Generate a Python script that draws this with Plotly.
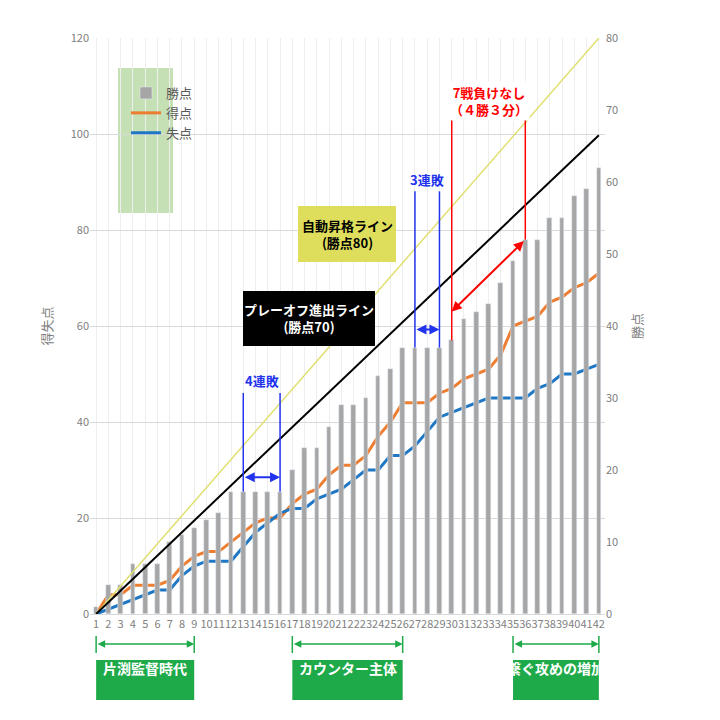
import plotly.graph_objects as go

games = list(range(1, 43))
points = [1,4,4,7,7,7,10,11,12,13,14,17,17,17,17,17,20,23,23,26,29,29,30,33,34,37,37,37,37,38,41,42,43,46,49,52,52,55,55,58,59,62]
scored = [0,4,4,6,6,6,7,10,12,13,13,15,17,19,20,20,23,25,26,29,31,31,33,37,40,44,44,44,46,47,49,50,51,54,60,61,62,65,66,68,69,71]
conceded = [0,1,2,3,4,5,5,8,10,11,11,11,14,17,19,21,22,22,24,25,26,28,30,30,33,33,35,38,41,42,43,44,45,45,45,45,47,48,50,50,51,52]
auto_line = [0, 80]
playoff_line = [0, 66.5]

F = "Noto Sans CJK JP"
fig = go.Figure()
fig.add_bar(x=games, y=points, name="勝点", marker_color="#a6a6a6", width=0.38, yaxis="y2")
fig.add_scatter(x=games, y=scored, name="得点", mode="lines", line=dict(color="#ed7d31", width=3))
fig.add_scatter(x=games, y=conceded, name="失点", mode="lines", line=dict(color="#1f77c4", width=3))
fig.add_scatter(x=[1, 42], y=auto_line, mode="lines", line=dict(color="#e0e070", width=1.5), yaxis="y2", showlegend=False)
fig.add_scatter(x=[1, 42], y=playoff_line, mode="lines", line=dict(color="black", width=2), yaxis="y2", showlegend=False)

shapes = []
anns = []
def vline(x, y0, y1, color, w=1.5):
    shapes.append(dict(type="line", xref="x", yref="y2", x0=x, x1=x, y0=y0, y1=y1, line=dict(color=color, width=w)))
def arrow(x0, y0, x1, y1, color, yref="y2", w=2):
    anns.append(dict(x=x1, y=y1, ax=x0, ay=y0, xref="x", yref=yref, axref="x", ayref=yref,
                     showarrow=True, arrowhead=2, startarrowhead=2, arrowside="end+start",
                     arrowcolor=color, arrowwidth=w, text=""))
def text(x, y, t, color, size=13, xref="x", yref="y2", **kw):
    anns.append(dict(x=x, y=y, xref=xref, yref=yref, text=t, showarrow=False,
                     font=dict(family=F, size=size, color=color), **kw))

blue = "#2233ee"
vline(13, 17, 30.7, blue); vline(16, 17, 30.7, blue)
arrow(13, 19, 16, 19, blue)
text(14.5, 32.5, "<b>4連敗</b>", blue)
vline(27, 37, 58.7, blue); vline(29, 37, 58.7, blue)
arrow(27, 39.5, 29, 39.5, blue)
text(28, 60.3, "<b>3連敗</b>", blue)
red = "#ff0000"
vline(30, 38, 72, red); vline(36, 52, 72, red)
shapes.append(dict(type="line", xref="x", yref="y2", x0=30, x1=36, y0=72, y1=72, line=dict(color=red, width=1.5)))
arrow(36, 52, 30, 42, red)
text(33, 71.3, "<b>7戦負けなし<br>（４勝３分）</b>", red, bgcolor="white")

def px2x(px): return 0.5 + (px - 82) / 12.262
def py2p(py): return (606 - py) / 576
shapes.append(dict(type="rect", xref="x", yref="paper", x0=px2x(290), x1=px2x(388), y0=py2p(254), y1=py2p(198),
                   fillcolor="#dede5c", line=dict(width=0), layer="above"))
text(px2x(339), py2p(226), "<b>自動昇格ライン<br>(勝点80)</b>", "black", 13, yref="paper")
shapes.append(dict(type="rect", xref="x", yref="paper", x0=px2x(235), x1=px2x(367), y0=py2p(338), y1=py2p(283),
                   fillcolor="black", line=dict(width=0), layer="above"))
text(px2x(301), py2p(310), "<b>プレーオフ進出ライン<br>(勝点70)</b>", "white", 13, yref="paper")
shapes.append(dict(type="rect", xref="paper", yref="paper", x0=(110-82)/515, x1=(165-82)/515, y0=py2p(205), y1=py2p(60),
                   fillcolor="#c5e0b4", line=dict(width=0), layer="below"))

green = "#1faa4a"
for a, b, t in [(1, 9, "片渕監督時代"), (17, 26, "カウンター主体"), (35, 42, "繋ぐ攻めの増加")]:
    for xx in (a, b):
        shapes.append(dict(type="line", xref="x", yref="paper", x0=xx, x1=xx, y0=py2p(628), y1=py2p(645), line=dict(color=green, width=1.5)))
    anns.append(dict(x=b, y=py2p(636), ax=a, ay=0, xref="x", yref="paper", axref="x", ayref="pixel",
                     showarrow=True, arrowhead=2, startarrowhead=2, arrowside="end+start", arrowcolor=green, arrowwidth=1.5, text=""))
    shapes.append(dict(type="rect", xref="x", yref="paper", x0=a, x1=b, y0=py2p(692), y1=py2p(652), fillcolor=green, line=dict(width=0)))
    text((a + b) / 2, py2p(672), "<b>" + t + "</b>", "white", 14, yref="paper")

fig.update_layout(
    width=720, height=720, margin=dict(l=82, r=123, t=30, b=114),
    paper_bgcolor="white", plot_bgcolor="white",
    font=dict(family=F, color="#808080", size=11),
    xaxis=dict(range=[0.5, 42.5], tickmode="array", tickvals=games, ticktext=[str(g) for g in games],
               showgrid=True, gridcolor="#eeeeee", tickfont=dict(size=11, color="#808080"),
               showline=True, linecolor="#d9d9d9", tickangle=0),
    yaxis=dict(range=[0, 120], dtick=20, gridcolor="#d9d9d9", zeroline=False,
               title=dict(text="得失点", font=dict(size=13, color="#808080"))),
    yaxis2=dict(range=[0, 80], dtick=10, overlaying="y", side="right", showgrid=False, zeroline=False,
                title=dict(text="勝点", font=dict(size=13, color="#808080"))),
    legend=dict(x=(118-82)/515, y=py2p(70), xanchor="left", yanchor="top", bgcolor="rgba(0,0,0,0)",
                font=dict(size=13, color="#595959"), tracegroupgap=0, itemwidth=30,
                traceorder="normal"),
    bargap=0, shapes=shapes, annotations=anns, showlegend=True,
)
fig.write_html("out.html")
